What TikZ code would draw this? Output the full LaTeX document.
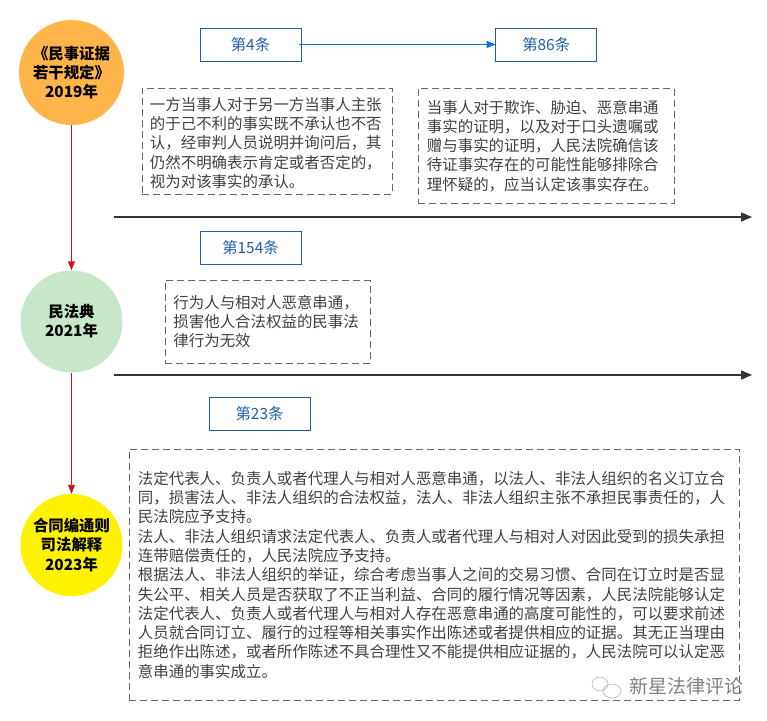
\documentclass[tikz,border=0pt]{standalone}
\usepackage{fontspec}
\setmainfont{Noto Sans CJK SC}
\usetikzlibrary{arrows.meta}
\definecolor{tiaoblue}{HTML}{1F5FA6}
\definecolor{linkblue}{HTML}{1070D0}
\definecolor{dashgray}{HTML}{666666}
\definecolor{bodygray}{HTML}{404040}
\definecolor{axisgray}{HTML}{333333}
\definecolor{timered}{HTML}{D0101C}
\definecolor{yearorange}{HTML}{FFB54A}
\definecolor{yeargreen}{HTML}{C8E6C9}
\definecolor{markgray}{HTML}{808080}
\tikzset{
    yearnode/.style={circle, minimum size=#1, inner sep=0pt, align=center, text=black,
        font=\fontsize{15.4}{19.2}\selectfont\bfseries},
    tiaobox/.style={draw=tiaoblue, line width=0.9pt, minimum width=101pt, minimum height=33pt,
        inner sep=0pt, outer sep=0pt, text=tiaoblue, font=\fontsize{15.4}{19}\selectfont},
    textbox/.style={draw=dashgray, line width=0.8pt, dash pattern=on 7pt off 4pt, align=left,
        anchor=north west, inner xsep=0pt, inner ysep=0pt, text=bodygray,
        font=\fontsize{15.45}{19.3}\selectfont},
    timeline/.style={draw=timered, line width=0.9pt, -{Triangle[length=9pt,width=7pt]}},
    axisline/.style={draw=axisgray, line width=1.5pt, -{Triangle[length=11pt,width=9pt]}},
}
\begin{document}
\begin{tikzpicture}[x=1pt, y=-1pt]
    \useasboundingbox (0,0) rectangle (767,720);

    % year circles
    \node[yearnode=105pt, fill=yearorange] (rules) at (71.5,72.5) {《民事证据\\若干规定》\\2019年};
    \node[yearnode=102pt, fill=yeargreen] (code) at (71.5,321.5) {民法典\\2021年};
    \node[yearnode=102pt, fill=yellow] (interp) at (71.5,545) {合同编通则\\司法解释\\2023年};

    \draw[timeline] (rules) -- (code);
    \draw[timeline] (code) -- (interp);

    % article labels
    \node[tiaobox] (art4) at (250.5,44.5) {第4条};
    \node[tiaobox] (art86) at (546.2,44.5) {第86条};
    \node[tiaobox] (art154) at (250.5,248) {第154条};
    \node[tiaobox] (art23) at (259.5,413.5) {第23条};

    \draw[draw=linkblue, line width=0.8pt, shorten <=-2pt, -{Triangle[length=9pt,width=7pt]}] (art4.east) -- (art86.west);

    % article texts
    \node[textbox, text width=250pt, minimum height=106pt] (text4) at (142,88) {\hspace*{7.5pt}\begin{minipage}{240pt}\vspace*{3pt}一方当事人对于另一方当事人主张\\的于己不利的事实既不承认也不否\\认，经审判人员说明并询问后，其\\仍然不明确表示肯定或者否定的，\\视为对该事实的承认。\end{minipage}};
    \node[textbox, text width=255.5pt, minimum height=115pt] (text86) at (418,88) {\hspace*{8.5pt}\begin{minipage}{245pt}当事人对于欺诈、胁迫、恶意串通\\事实的证明，以及对于口头遗嘱或\\赠与事实的证明，人民法院确信该\\待证事实存在的可能性能够排除合\\理怀疑的，应当认定该事实存在。\end{minipage}};
    \node[textbox, text width=205pt, minimum height=82.5pt] (text154) at (164.5,280) {\hspace*{8.5pt}\begin{minipage}{195pt}行为人与相对人恶意串通，\\损害他人合法权益的民事法\\律行为无效\end{minipage}};
    \node[textbox, text width=610pt, minimum height=251pt] (text23) at (128.5,449) {\hspace*{9pt}\begin{minipage}{598pt}法定代表人、负责人或者代理人与相对人恶意串通，以法人、非法人组织的名义订立合\\同，损害法人、非法人组织的合法权益，法人、非法人组织主张不承担民事责任的，人\\民法院应予支持。\\法人、非法人组织请求法定代表人、负责人或者代理人与相对人对因此受到的损失承担\\连带赔偿责任的，人民法院应予支持。\\根据法人、非法人组织的举证，综合考虑当事人之间的交易习惯、合同在订立时是否显\\失公平、相关人员是否获取了不正当利益、合同的履行情况等因素，人民法院能够认定\\法定代表人、负责人或者代理人与相对人存在恶意串通的高度可能性的，可以要求前述\\人员就合同订立、履行的过程等相关事实作出陈述或者提供相应的证据。其无正当理由\\拒绝作出陈述，或者所作陈述不具合理性又不能提供相应证据的，人民法院可以认定恶\\意串通的事实成立。\end{minipage}};

    % axes
    \coordinate (axisa) at (114,217);
    \coordinate (axisaend) at (752,217);
    \coordinate (axisb) at (114,375);
    \coordinate (axisbend) at (752,375);
    \draw[axisline] (axisa) -- (axisaend);
    \draw[axisline] (axisb) -- (axisbend);

    % watermark
    \draw[markgray!60, line width=0.6pt] (600,684) ellipse (8pt and 7pt);
    \draw[markgray!60, line width=0.6pt] (612,691) ellipse (9pt and 7pt);
    \node[text=markgray, inner sep=0pt, font=\fontsize{19}{19}\selectfont] (mark) at (686.5,686) {新星法律评论};
\end{tikzpicture}
\end{document}
